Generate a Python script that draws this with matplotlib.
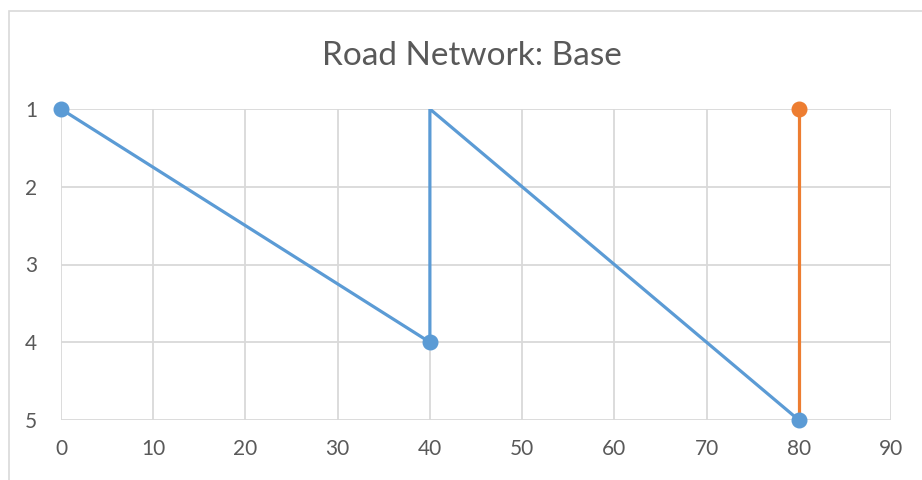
import matplotlib
matplotlib.use("Agg")
import matplotlib.pyplot as plt
from matplotlib.patches import Rectangle

title = "Road Network: Base"
x_ticks = [0, 10, 20, 30, 40, 50, 60, 70, 80, 90]
y_ticks = [1, 2, 3, 4, 5]

blue_x = [0, 40, 40, 80]
blue_y = [1, 4, 1, 5]
blue_marked = [True, True, False, True]

orange_x = [80, 80]
orange_y = [1, 5]

BLUE = "#5B9BD5"
ORANGE = "#ED7D31"
GRID = "#D9D9D9"
TXT = "#595959"

plt.rcParams['font.family'] = ['Lato', 'DejaVu Sans']

W, H = 922, 480
fig = plt.figure(figsize=(W / 100, H / 100), dpi=100)
fig.patch.set_facecolor("white")
fig.patches.append(Rectangle((8.5 / W, -0.1), 1.2, 1 - 10.5 / H + 0.1,
                             transform=fig.transFigure, fill=False,
                             edgecolor="#D9D9D9", linewidth=1.2))

ax = fig.add_axes([61 / W, 1 - 420 / H, 830 / W, 311 / H])
ax.set_xlim(0, 90)
ax.set_ylim(5, 1)
ax.set_xticks(x_ticks)
ax.set_yticks(y_ticks)
ax.grid(True, color=GRID, linewidth=1.3)
ax.set_axisbelow(True)
for s in ax.spines.values():
    s.set_visible(False)
ax.tick_params(length=0, labelsize=15, colors=TXT)
ax.tick_params(axis='x', pad=14)
ax.tick_params(axis='y', pad=17)

ax.plot(blue_x, blue_y, color=BLUE, linewidth=2.3, solid_capstyle='butt', zorder=3)
mx = [x for x, m in zip(blue_x, blue_marked) if m]
my = [y for y, m in zip(blue_y, blue_marked) if m]
ax.plot(orange_x, orange_y, color=ORANGE, linewidth=2.3, zorder=3)
ax.plot(orange_x[:1], orange_y[:1], 'o', color=ORANGE, markersize=10.5, zorder=4, clip_on=False)
ax.plot(mx, my, 'o', color=BLUE, markersize=10.5, zorder=5, clip_on=False)

fig.text(472 / W, 1 - 56 / H, title, ha='center', va='center', fontsize=24, color=TXT)

fig.savefig("out.png", dpi=100)
